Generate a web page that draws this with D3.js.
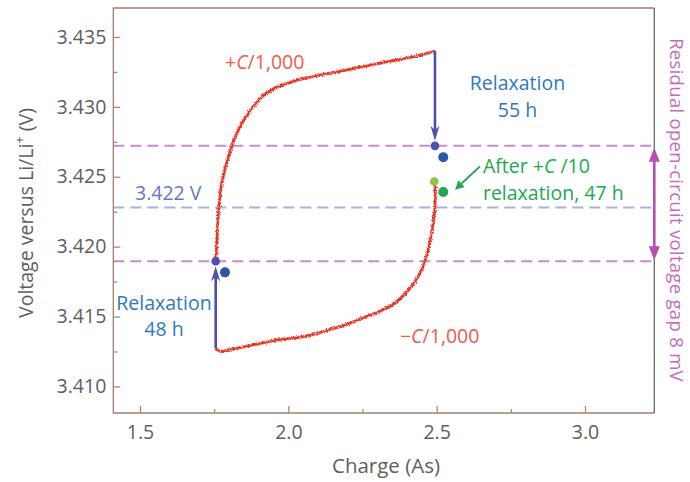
<!DOCTYPE html>
<html>
<head>
<meta charset="utf-8">
<script src="https://cdn.jsdelivr.net/npm/d3@7"></script>
<style>
  body { margin: 0; background: #ffffff; }
  svg { display: block; font-family: "Open Sans", "Noto Sans", sans-serif; }
</style>
</head>
<body>
<svg id="chart" width="690" height="482"></svg>
<script>
// Galvanostatic charge branch (+C/1,000): charge (As) and voltage (V)
const chargeUp = [1.7551, 1.7585, 1.7619, 1.7663, 1.7754, 1.7922, 1.8091, 1.8313, 1.8650, 1.8987,
                  1.9156, 1.9493, 2.0056, 2.0841, 2.1967, 2.3089, 2.4211, 2.4885, 2.4943];
const voltUp   = [3.41895, 3.42002, 3.42169, 3.42288, 3.42455, 3.42598, 3.42716, 3.42836, 3.42955, 3.43045,
                  3.43080, 3.43128, 3.43175, 3.43218, 3.43264, 3.43312, 3.43359, 3.43395, 3.43400];

// Discharge branch (−C/1,000), starting after the +C/10 relaxation
const chargeDown = [2.4919, 2.4943, 2.4943, 2.4885, 2.4808, 2.4717, 2.4582, 2.4380, 2.4158, 2.3874,
                    2.3594, 2.3089, 2.2526, 2.1967, 2.1404, 2.0841, 2.0281, 1.9719, 1.9156, 1.8596,
                    1.8033, 1.7696, 1.7580, 1.7551];
const voltDown   = [3.42466, 3.42431, 3.42288, 3.42169, 3.42074, 3.41979, 3.41884, 3.41788, 3.41716, 3.41650,
                    3.41596, 3.41538, 3.41491, 3.41443, 3.41407, 3.41371, 3.41348, 3.41336, 3.41312, 3.41288,
                    3.41264, 3.41252, 3.41270, 3.41276];

// Relaxation steps: charge, voltage before and after relaxation
const relaxCharge = [2.4943, 1.7551];
const relaxFrom   = [3.43400, 3.41276];
const relaxTo     = [3.42721, 3.41895];
const relaxLabel  = ["Relaxation|55 h", "Relaxation|48 h"];

// Relaxed open-circuit points
const ocvCharge = [2.5222, 1.7865];
const ocvVolt   = [3.4264, 3.41816];
// After +C/10 and 47 h relaxation
const c10Charge = [2.4919, 2.5222];
const c10Volt   = [3.42466, 3.42391];

// Reference levels
const gapLevels = [3.42721, 3.41895];
const midLevel  = 3.4228;
const midLabel  = "3.422 V";

// Axis ticks
const xTicks = [1.5, 2.0, 2.5, 3.0];
const xMinor = [1.75, 2.25, 2.75];
const yTicks = [3.410, 3.415, 3.420, 3.425, 3.430, 3.435];
const yMinor = [3.4125, 3.4175, 3.4225, 3.4275, 3.4325];

const svg = d3.select("#chart");
const W = 690, H = 482;
const pLeft = 113.3, pRight = 654.3, pTop = 8, pBottom = 413;

const x = d3.scaleLinear().domain([1.41, 3.2336]).range([pLeft, pRight]);
const y = d3.scaleLinear().domain([3.4081, 3.43707]).range([pBottom, pTop]);

const COL = {
  tick: "#5d5e60",
  red: "#e8342a",
  redSoft: "#f6a392",
  redText: "#f05a49",
  blueArrow: "#4c4fad",
  blueDot: "#2c56a8",
  blueText: "#2f78c2",
  lav: "#a9b0e6",
  lavText: "#6378cc",
  mag: "#c98ad2",
  magArrow: "#b350b1",
  magText: "#c46bbf",
  green: "#21a852",
  greenLight: "#8fc741",
  frame: "#a97e70",
  frameRight: "#55706a"
};

const defs = svg.append("defs");
const f = defs.append("filter").attr("id", "jitter")
  .attr("filterUnits", "userSpaceOnUse").attr("x", 0).attr("y", 0).attr("width", W).attr("height", H);
f.append("feTurbulence").attr("type", "fractalNoise").attr("baseFrequency", 0.8)
  .attr("numOctaves", 2).attr("seed", 7).attr("result", "noise");
f.append("feDisplacementMap").attr("in", "SourceGraphic").attr("in2", "noise")
  .attr("scale", 5).attr("xChannelSelector", "R").attr("yChannelSelector", "G");

// Dashed reference levels
svg.append("g").selectAll("line").data(gapLevels).join("line")
  .attr("x1", pLeft).attr("x2", pRight)
  .attr("y1", d => y(d)).attr("y2", d => y(d))
  .attr("stroke", COL.mag).attr("stroke-width", 2).attr("stroke-dasharray", "11,6");
svg.append("line")
  .attr("x1", pLeft).attr("x2", pRight)
  .attr("y1", y(midLevel)).attr("y2", y(midLevel))
  .attr("stroke", COL.lav).attr("stroke-width", 2).attr("stroke-dasharray", "11,6");

// Axes (ticks point into the plot)
const gx = svg.append("g").attr("transform", `translate(0,${pBottom})`)
  .call(d3.axisBottom(x).tickValues(xTicks).tickFormat(d3.format(".1f")).tickSize(-7).tickSizeOuter(0).tickPadding(12));
const gxm = svg.append("g").attr("transform", `translate(0,${pBottom})`)
  .call(d3.axisBottom(x).tickValues(xMinor).tickFormat("").tickSize(-4).tickSizeOuter(0));
const gy = svg.append("g").attr("transform", `translate(${pLeft},0)`)
  .call(d3.axisLeft(y).tickValues(yTicks).tickFormat(d3.format(".3f")).tickSize(-7).tickSizeOuter(0).tickPadding(7));
const gym = svg.append("g").attr("transform", `translate(${pLeft},0)`)
  .call(d3.axisLeft(y).tickValues(yMinor).tickFormat("").tickSize(-4).tickSizeOuter(0));
[gx, gxm, gy, gym].forEach(g => {
  g.select(".domain").remove();
  g.selectAll(".tick line").attr("stroke", COL.frame).attr("stroke-width", 1.2);
  g.selectAll(".tick text").attr("fill", COL.tick).attr("font-size", 19.5)
    .attr("font-family", "'Open Sans', 'Noto Sans', sans-serif");
});

// Frame
svg.append("path").attr("d", `M${pRight},${pTop}H${pLeft}V${pBottom}H${pRight}`)
  .attr("fill", "none").attr("stroke", COL.frame).attr("stroke-width", 1.3);
svg.append("line").attr("x1", pRight).attr("x2", pRight).attr("y1", pTop).attr("y2", pBottom)
  .attr("stroke", COL.frameRight).attr("stroke-width", 1.3);

// Axis titles
svg.append("text")
  .attr("transform", `translate(33,213) rotate(-90)`)
  .attr("text-anchor", "middle").attr("font-size", 19.5).attr("fill", COL.tick)
  .call(t => {
    t.append("tspan").text("Voltage versus Li/Li");
    t.append("tspan").attr("font-size", 13).attr("baseline-shift", "super").text("+");
    t.append("tspan").text(" (V)");
  });
svg.append("text")
  .attr("x", 386).attr("y", 473)
  .attr("text-anchor", "middle").attr("font-size", 20.5).attr("fill", COL.tick)
  .text("Charge (As)");
svg.append("text")
  .attr("transform", `translate(670,210) rotate(90)`)
  .attr("text-anchor", "middle").attr("font-size", 18.5).attr("fill", COL.magText)
  .attr("letter-spacing", 0.3)
  .text("Residual open-circuit voltage gap 8 mV");

// Voltage curves
const line = d3.line().x(d => x(d[0])).y(d => y(d[1])).curve(d3.curveCatmullRom.alpha(0.5));
const upData = chargeUp.map((c, i) => [c, voltUp[i]]);
const downData = chargeDown.map((c, i) => [c, voltDown[i]]);
const curves = svg.append("g");
[upData, downData].forEach(d => {
  curves.append("path").attr("d", line(d)).attr("fill", "none")
    .attr("stroke", COL.redSoft).attr("stroke-width", 3.4).attr("stroke-opacity", 0.65);
});
const noisy = svg.append("g").attr("filter", "url(#jitter)");
[upData, downData].forEach(d => {
  noisy.append("path").attr("d", line(d)).attr("fill", "none")
    .attr("stroke", COL.red).attr("stroke-width", 2.5).attr("stroke-linejoin", "round");
});

// Relaxation arrows
function arrowHead(g, tipX, tipY, dir, len, half, color) {
  // dir: +1 points down, -1 points up
  g.append("path")
    .attr("d", `M${tipX},${tipY}L${tipX - half},${tipY - dir * len}L${tipX},${tipY - dir * len * 0.7}L${tipX + half},${tipY - dir * len}Z`)
    .attr("fill", color);
}
const relax = svg.append("g");
relaxCharge.forEach((c, i) => {
  const x0 = x(c), yA = y(relaxFrom[i]), yB = y(relaxTo[i]);
  const dir = yB > yA ? 1 : -1;
  const tip = yB - dir * 5;
  relax.append("line").attr("x1", x0).attr("x2", x0).attr("y1", yA).attr("y2", tip - dir * 8)
    .attr("stroke", COL.blueArrow).attr("stroke-width", 2.6);
  arrowHead(relax, x0, tip, dir, 15, 4.5, COL.blueArrow);
  relax.append("circle").attr("cx", x0).attr("cy", yB).attr("r", 4.3).attr("fill", COL.blueArrow);
});

// Relaxed open-circuit points
svg.append("g").selectAll("circle").data(ocvCharge).join("circle")
  .attr("cx", d => x(d)).attr("cy", (d, i) => y(ocvVolt[i])).attr("r", 5)
  .attr("fill", COL.blueDot);

// +C/10 points
svg.append("circle").attr("cx", x(c10Charge[0])).attr("cy", y(c10Volt[0])).attr("r", 4.3).attr("fill", COL.greenLight);
svg.append("circle").attr("cx", x(c10Charge[1])).attr("cy", y(c10Volt[1])).attr("r", 5).attr("fill", COL.green);

// Green pointer arrow
{
  const x1 = x(2.6459), y1 = y(3.42574), x2 = x(2.5617), y2 = y(3.42407);
  const ang = Math.atan2(y2 - y1, x2 - x1);
  const L = 9, hw = 4.5;
  const bx = x2 - L * Math.cos(ang), by = y2 - L * Math.sin(ang);
  svg.append("line").attr("x1", x1).attr("y1", y1).attr("x2", bx).attr("y2", by)
    .attr("stroke", COL.green).attr("stroke-width", 2);
  svg.append("path")
    .attr("d", `M${x2},${y2}L${bx + hw * Math.sin(ang)},${by - hw * Math.cos(ang)}L${bx - hw * Math.sin(ang)},${by + hw * Math.cos(ang)}Z`)
    .attr("fill", COL.green);
}

// Gap arrow on the right
{
  const xr = x(3.2336), yT = y(gapLevels[0]), yB = y(gapLevels[1]);
  svg.append("line").attr("x1", xr).attr("x2", xr).attr("y1", yT + 12).attr("y2", yB - 12)
    .attr("stroke", COL.magArrow).attr("stroke-width", 2.6);
  svg.append("path").attr("d", `M${xr},${yT + 2}L${xr - 5.5},${yT + 16}L${xr + 5.5},${yT + 16}Z`).attr("fill", COL.magArrow);
  svg.append("path").attr("d", `M${xr},${yB - 1}L${xr - 5.5},${yB - 15}L${xr + 5.5},${yB - 15}Z`).attr("fill", COL.magArrow);
}

// Annotations
const fs = 19.5;
function label(xp, yp, color, parts, anchor) {
  const t = svg.append("text").attr("x", xp).attr("y", yp).attr("fill", color)
    .attr("font-size", fs).attr("text-anchor", anchor || "start");
  parts.forEach(p => {
    const s = t.append("tspan").text(p.t);
    if (p.i) s.attr("font-style", "italic");
  });
  return t;
}
label(x(1.7865), y(3.43268), COL.redText, [{t: "+"}, {t: "C", i: 1}, {t: "/1,000"}]);
label(x(2.3763), y(3.41314), COL.redText, [{t: "\u2212"}, {t: "C", i: 1}, {t: "/1,000"}]);
const [r1a, r1b] = relaxLabel[0].split("|");
label(x(2.7723), y(3.43121), COL.blueText, [{t: r1a}], "middle");
label(x(2.7723), y(3.42929), COL.blueText, [{t: r1b}], "middle");
const [r2a, r2b] = relaxLabel[1].split("|");
label(x(1.5809), y(3.4155), COL.blueText, [{t: r2a}], "middle");
label(x(1.5809), y(3.41364), COL.blueText, [{t: r2b}], "middle");
label(x(1.4831), y(3.42331), COL.lavText, [{t: midLabel}]);
label(x(2.656), y(3.42529), COL.green, [{t: "After +"}, {t: "C", i: 1}, {t: " /10"}]);
label(x(2.656), y(3.42336), COL.green, [{t: "relaxation, 47 h"}]);
</script>
</body>
</html>
